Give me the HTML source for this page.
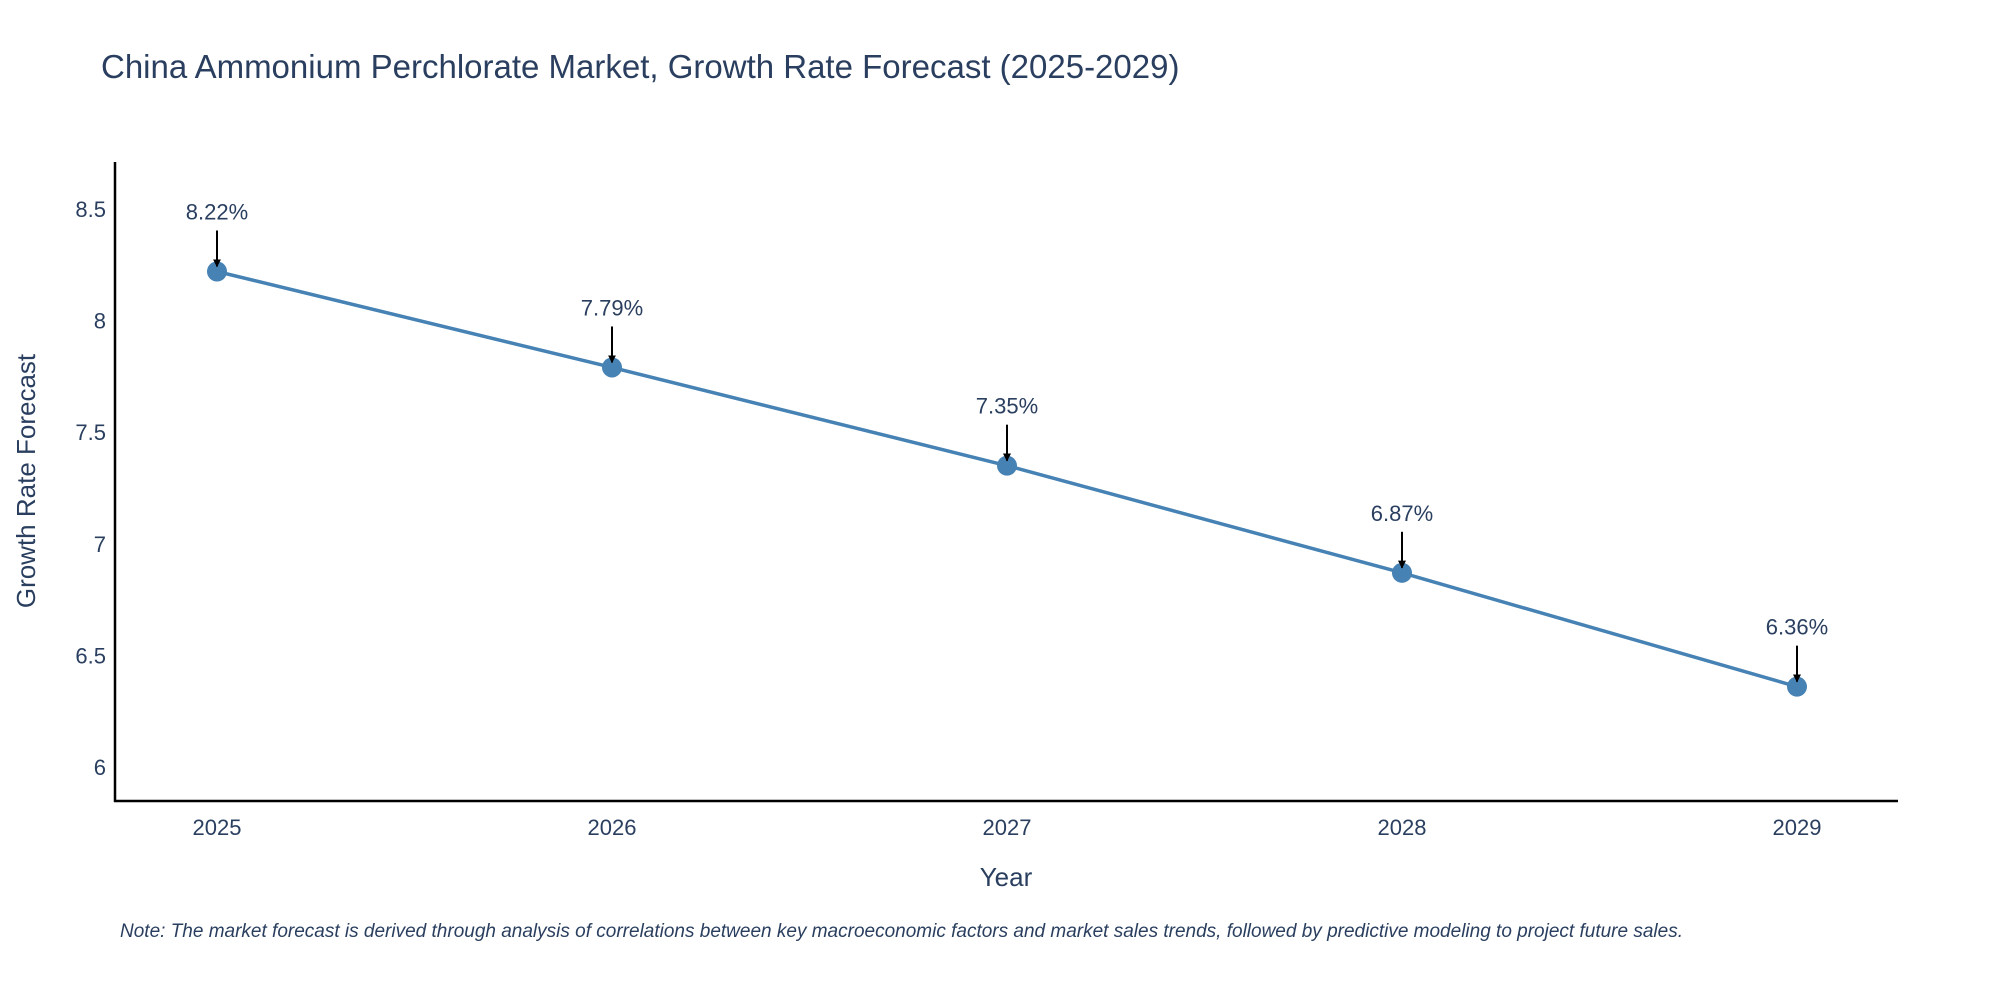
<!DOCTYPE html>
<html><head><meta charset="utf-8"><style>
body{margin:0;background:#fff;}
svg{display:block;font-family:"Liberation Sans",sans-serif;}
</style></head><body>
<svg width="2000" height="1000">
<text x="101" y="78" font-size="33" fill="#2a3f5f">China Ammonium Perchlorate Market, Growth Rate Forecast (2025-2029)</text>
<defs><marker id="ah" viewBox="0 0 10 10" refX="9" refY="5" markerWidth="4" markerHeight="4" orient="auto"><path d="M0,0L10,5L0,10z" fill="#000"/></marker></defs>
<g id="axes"></g>
<g id="series"></g>
<text x="1006" y="886" font-size="26" fill="#2a3f5f" text-anchor="middle">Year</text>
<text transform="translate(35,481) rotate(-90)" font-size="26" fill="#2a3f5f" text-anchor="middle">Growth Rate Forecast</text>
<text x="120" y="937" font-size="19" font-style="italic" fill="#2a3f5f">Note: The market forecast is derived through analysis of correlations between key macroeconomic factors and market sales trends, followed by predictive modeling to project future sales.</text>
</svg>
<script>
const years=[2025,2026,2027,2028,2029];
const values=[8.22,7.79,7.35,6.87,6.36];
const labels=["8.22%","7.79%","7.35%","6.87%","6.36%"];
const yTicks=[6,6.5,7,7.5,8,8.5];
const NS="http://www.w3.org/2000/svg";
function x(v){return 217+(v-2025)*395;}
function y(v){return 767-(v-6)*223.2;}
function mk(t,a,p){const e=document.createElementNS(NS,t);for(const k in a)e.setAttribute(k,a[k]);p.appendChild(e);return e;}
const ax=document.getElementById('axes'),se=document.getElementById('series');
let l=mk('line',{x1:115,y1:162,x2:115,y2:802,stroke:'#000','stroke-width':2.5},ax);


l=mk('line',{x1:114,y1:801,x2:1898,y2:801,stroke:'#000','stroke-width':2.5},ax);


yTicks.forEach(t=>{const e=mk('text',{x:106,y:y(t)+8,'font-size':22,fill:'#2a3f5f','text-anchor':'end'},ax);e.textContent=String(t);

});
years.forEach(t=>{const e=mk('text',{x:x(t),y:835,'font-size':22,fill:'#2a3f5f','text-anchor':'middle'},ax);e.textContent=String(t);

});
const pl=mk('polyline',{points:years.map((t,i)=>x(t)+','+y(values[i])).join(' '),fill:'none',stroke:'#4682b4','stroke-width':3.5},se);


years.forEach((t,i)=>{const cx=x(t),cy=y(values[i]);
const c=mk('circle',{cx:cx,cy:cy,r:10,fill:'#4682b4'},se);


const a=mk('line',{x1:cx,y1:cy-41,x2:cx,y2:cy-5,stroke:'#000','stroke-width':2,'marker-end':'url(#ah)'},se);


const tx=mk('text',{x:cx,y:cy-52,'font-size':22,fill:'#2a3f5f','text-anchor':'middle'},se);tx.textContent=labels[i];

});
</script>
</body></html>
